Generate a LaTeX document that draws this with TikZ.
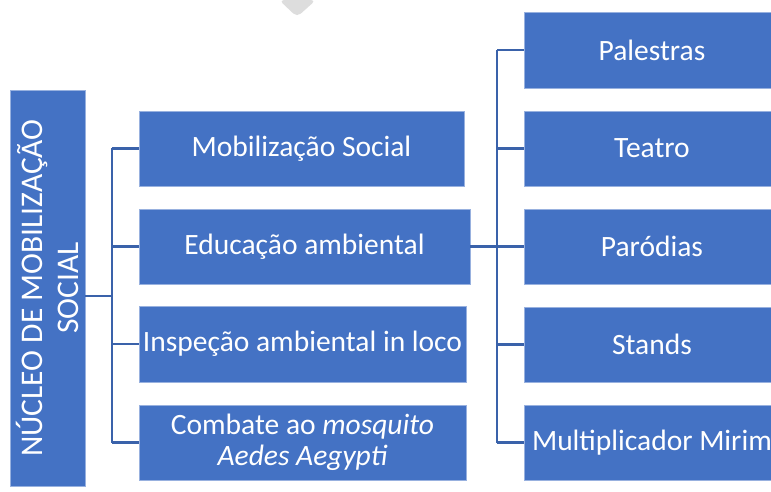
\documentclass[tikz,border=0pt]{standalone}
\usepackage{fontspec}
\setmainfont{Carlito}
\usetikzlibrary{calc}

\definecolor{boxblue}{HTML}{4472C4}
\definecolor{linkblue}{HTML}{3A62AA}
\definecolor{blobgray}{HTML}{DDDDDD}

\tikzset{
  box/.style={rectangle, fill=boxblue, draw=boxblue!55!white, line width=0.8pt,
    text=white, align=center, inner sep=0pt,
    font=\fontsize{29.5}{31}\selectfont},
  link/.style={draw=linkblue, line width=2.2pt}
}

\begin{document}
\begin{tikzpicture}[x=1pt,y=-1pt]
\useasboundingbox (0,0) rectangle (771,492);
% mark at the top edge
\fill[blobgray, rounded corners=5] (279,0) -- (297,17) -- (316,0) -- cycle;

% main column
\node[box, minimum width=396, minimum height=75, rotate=90,
  font=\fontsize{31.5}{36}\selectfont] (nucleo) at (47.5,288)
  {NÚCLEO DE MOBILIZAÇÃO\\SOCIAL};

% second level
\node[box, minimum width=325, minimum height=75] (mobil) at (301.5,148.5) {Mobilização Social};
\node[box, minimum width=331, minimum height=75] (educ) at (304.5,246.5) {Educação ambiental};
\node[box, minimum width=327, minimum height=76] (insp) at (302.5,344) {Inspeção ambiental in loco};
\node[box, minimum width=327, minimum height=75] (combate) at (302.5,442.5)
  {Combate ao \textit{mosquito}\\\textit{Aedes Aegypti}};

% third level
\node[box, minimum width=256, minimum height=76] (palestras) at (652,50) {Palestras};
\node[box, minimum width=256, minimum height=75] (teatro) at (652,148.5) {Teatro};
\node[box, minimum width=256, minimum height=75] (parodias) at (652,246.5) {Paródias};
\node[box, minimum width=256, minimum height=75] (stands) at (652,344.5) {Stands};
\node[box, minimum width=256, minimum height=75] (mirim) at (652,442.5) {Multiplicador Mirim};

% connectors
\coordinate (spineA) at (112,296);
\coordinate (spineB) at (497,246.5);
\draw[link] (spineA -| nucleo.south) -- (spineA);
\draw[link] (spineA |- mobil.west) -- (spineA |- combate.west);
\foreach \n in {mobil,educ,insp,combate}
  \draw[link] (spineA |- \n.west) -- (\n.west);
\draw[link] (educ.east) -- (spineB);
\draw[link] (spineB |- palestras.west) -- (spineB |- mirim.west);
\foreach \n in {palestras,teatro,parodias,stands,mirim}
  \draw[link] (spineB |- \n.west) -- (\n.west);
\end{tikzpicture}
\end{document}
